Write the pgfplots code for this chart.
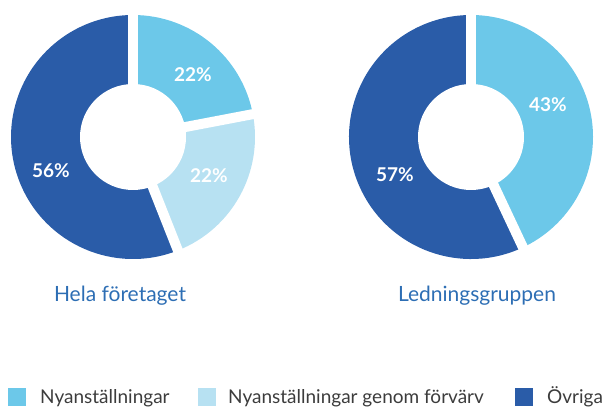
\documentclass[border=0pt]{standalone}
\usepackage{fontspec}
\setmainfont{Lato}
\usepackage{pgfplots}
\usepackage{pgfplotstable}
\pgfplotsset{compat=1.18}
\definecolor{cA}{HTML}{6CC8E9}
\definecolor{cB}{HTML}{B7E1F2}
\definecolor{cC}{HTML}{2A5CA8}
\definecolor{ttl}{HTML}{2D6EB4}
\definecolor{leg}{HTML}{3C3C3C}

\pgfplotstableread{
share col
22 cA
22 cB
56 cC
}\hela
\pgfplotstableread{
share col
43 cA
57 cC
}\ledning
\pgfplotstableread{
x y lab
193 332 22
209 231 22
51 236 56
548 302 43
395 232 57
}\labels

\newcommand\donut[3]{%
  \pgfplotstablegetrowsof{#1}%
  \pgfmathtruncatemacro\lastrow{\pgfplotsretval-1}%
  \gdef\curang{90}%
  \foreach \i in {0,...,\lastrow}{%
    \pgfplotstablegetelem{\i}{share}\of{#1}\let\sh\pgfplotsretval
    \pgfplotstablegetelem{\i}{col}\of{#1}\let\cl\pgfplotsretval
    \pgfmathsetmacro\endang{\curang-3.6*\sh}%
    \fill[fill=\cl] (axis cs:#2,#3) -- ++(\curang:122pt) arc[start angle=\curang,end angle=\endang,radius=122pt] -- cycle;
    \xdef\curang{\endang}%
  }%
  \gdef\curang{90}%
  \foreach \i in {0,...,\lastrow}{%
    \pgfplotstablegetelem{\i}{share}\of{#1}\let\sh\pgfplotsretval
    \draw[white,line width=10pt] (axis cs:#2,#3) -- ++(\curang:130pt);
    \pgfmathsetmacro\endang{\curang-3.6*\sh}%
    \xdef\curang{\endang}%
  }%
  \fill[white] (axis cs:#2,#3) circle[radius=53pt];
}

\begin{document}
\begin{tikzpicture}
\useasboundingbox (0,0) rectangle (602pt,407pt);
\clip (0,0) rectangle (602pt,407pt);
\begin{axis}[at={(0,0)}, anchor=origin, x=1pt, y=1pt,
  xmin=0, xmax=602, ymin=0, ymax=407, hide axis, clip=false]
\pgfplotsextra{\donut{\hela}{133}{270}\donut{\ledning}{471}{270}}
\addplot[draw=none, mark=none, point meta=explicit symbolic,
  nodes near coords={\pgfplotspointmeta\%},
  nodes near coords style={anchor=center, text=white, inner sep=0pt, font=\bfseries\fontsize{19}{22}\selectfont}]
  table[x=x, y=y, meta=lab] {\labels};
\node[anchor=base, inner sep=0pt, text=ttl, font=\fontsize{21}{24}\selectfont] at (axis cs:120,105) {Hela företaget};
\node[anchor=base, inner sep=0pt, text=ttl, font=\fontsize{21}{24}\selectfont] at (axis cs:477,105) {Ledningsgruppen};
\fill[cA] (axis cs:8,1) rectangle (axis cs:26,19);
\fill[cB] (axis cs:198,1) rectangle (axis cs:216,19);
\fill[cC] (axis cs:515,1) rectangle (axis cs:533,19);
\node[anchor=base west, inner sep=0pt, text=leg, font=\fontsize{19}{22}\selectfont] at (axis cs:40,4) {Nyanställningar};
\node[anchor=base west, inner sep=0pt, text=leg, font=\fontsize{19}{22}\selectfont] at (axis cs:228,4) {Nyanställningar genom förvärv};
\node[anchor=base west, inner sep=0pt, text=leg, font=\fontsize{19}{22}\selectfont] at (axis cs:547,4) {Övriga};
\end{axis}
\end{tikzpicture}
\end{document}
